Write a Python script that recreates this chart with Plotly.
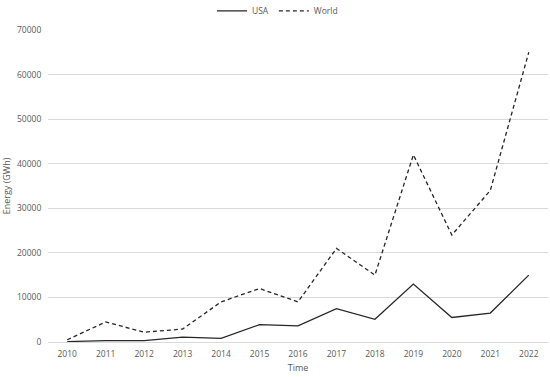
import plotly.graph_objects as go

years = ["2010", "2011", "2012", "2013", "2014", "2015", "2016", "2017", "2018", "2019", "2020", "2021", "2022"]
usa = [100, 300, 300, 1100, 800, 3900, 3600, 7500, 5100, 13000, 5500, 6500, 15000]
world = [500, 4500, 2200, 2900, 9000, 12000, 9000, 21000, 15000, 42000, 24000, 34000, 65000]
y_ticks = [0, 10000, 20000, 30000, 40000, 50000, 60000, 70000]
y_tick_labels = [str(v) for v in y_ticks]

font_family = "Open Sans, Liberation Sans, sans-serif"
grey = "#595959"

fig = go.Figure()
fig.add_trace(go.Scatter(x=years, y=usa, mode="lines", name="USA",
                         line=dict(color="#262626", width=1.3)))
fig.add_trace(go.Scatter(x=years, y=world, mode="lines", name="World",
                         line=dict(color="#262626", width=1.3, dash="4px,3px")))

fig.update_layout(
    width=550, height=377,
    margin=dict(l=48, r=2, t=30, b=35, autoexpand=False),
    paper_bgcolor="white", plot_bgcolor="white",
    font=dict(family=font_family, size=8.5, color=grey),
    legend=dict(orientation="h", x=0.328, xanchor="left", y=1.061, yanchor="middle",
                font=dict(size=8.5, color=grey), itemwidth=30, tracegroupgap=0),
    xaxis=dict(type="category", range=[-0.5, 12.5], showgrid=False, automargin=False,
               showline=True, linecolor="#d9d9d9", linewidth=1,
               ticks="outside", ticklen=4, tickcolor="rgba(0,0,0,0)",
               tickfont=dict(size=8.5, color=grey),
               title=dict(text="Time", font=dict(size=9, color=grey), standoff=6)),
    yaxis=dict(range=[0, 70000], tickvals=y_ticks, ticktext=y_tick_labels, automargin=False,
               showgrid=True, gridcolor="#d9d9d9",
               gridwidth=1, zeroline=False, showline=False,
               ticks="outside", ticklen=4, tickcolor="rgba(0,0,0,0)",
               tickfont=dict(size=8.5, color=grey),
               title=dict(text="Energy (GWh)", font=dict(size=9, color=grey), standoff=4)),
)
fig.write_html("out.html", post_script="document.body.style.margin='0';",
               config={"displayModeBar": False})
